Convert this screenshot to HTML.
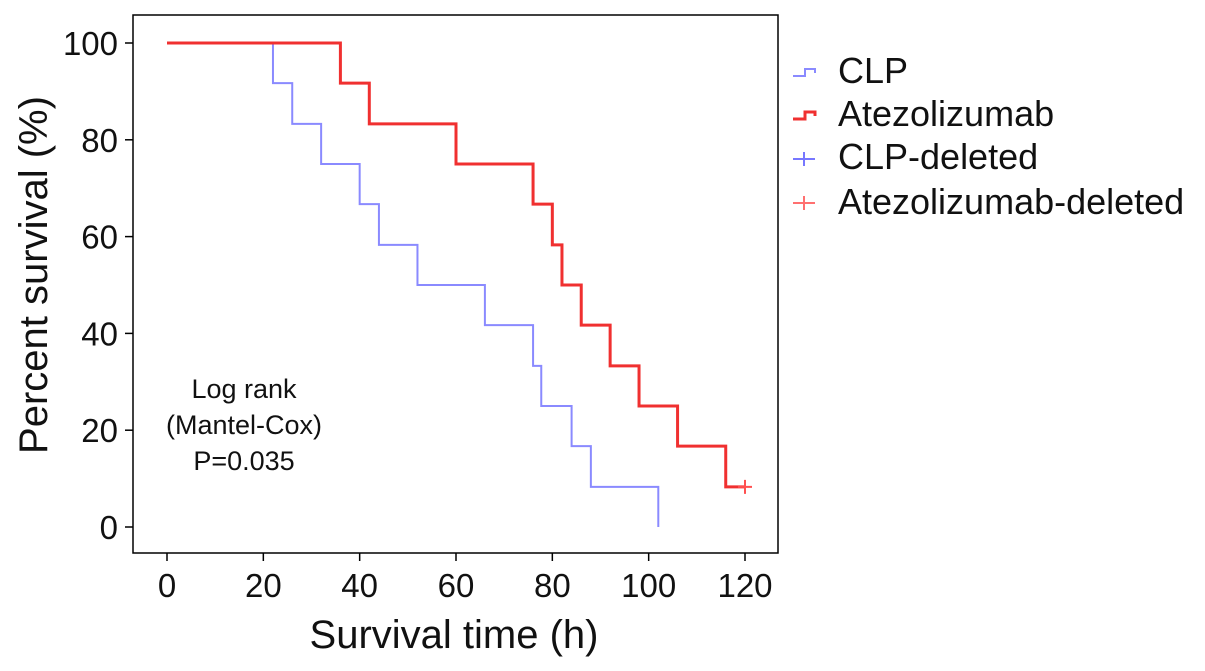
<!DOCTYPE html>
<html><head><meta charset="utf-8"><style>
body{margin:0;background:#fff;}
svg{display:block;font-family:"Liberation Sans",Arial,sans-serif;}
</style></head><body>
<svg id="chart" width="1205" height="671" viewBox="0 0 1205 671">
<rect x="133" y="15" width="645" height="538" fill="none" stroke="#000" stroke-width="1.5"/>
<g id="axes"></g>
<g id="series"></g>
<text x="244" y="398" font-size="27" text-anchor="middle" fill="#111">
<tspan x="244" dy="0">Log rank</tspan><tspan x="244" dy="36">(Mantel-Cox)</tspan><tspan x="244" dy="36">P=0.035</tspan></text>
<text x="454" y="648" font-size="40" text-anchor="middle" fill="#111">Survival time (h)</text>
<text transform="translate(47,275) rotate(-90)" font-size="40" text-anchor="middle" fill="#111">Percent survival (%)</text>
<g>
<path d="M793 76 h12 v-7 h10 v4" fill="none" stroke="#8a8aff" stroke-width="2"/>
<text x="838" y="83" font-size="36" fill="#111">CLP</text>
<path d="M793 119 h12 v-7 h10 v4" fill="none" stroke="#f03030" stroke-width="3"/>
<text x="838" y="126" font-size="36" fill="#111">Atezolizumab</text>
<path d="M793 159 h22 M804 152 v14" stroke="#7777ff" stroke-width="2"/>
<text x="838" y="169" font-size="36" fill="#111">CLP-deleted</text>
<path d="M793 203 h22 M804 196 v14" stroke="#ff7070" stroke-width="2"/>
<text x="838" y="214" font-size="36" fill="#111">Atezolizumab-deleted</text>
</g>
</svg>
<script>
const xTicks=[0,20,40,60,80,100,120];
const yTicks=[0,20,40,60,80,100];
const clpTimes=[0,22,26,32,40,44,52,66,76,77.7,84,88,102];
const clpSurv=[100,91.7,83.3,75,66.7,58.3,50,41.7,33.3,25,16.7,8.3,0];
const atzTimes=[0,36,42,60,76,80,82,86,92,98,106,116];
const atzSurv=[100,91.7,83.3,75,66.7,58.3,50,41.7,33.3,25,16.7,8.3];
const atzCensorT=[120];
const atzCensorS=[8.3];
const X=t=>167+t*(745-167)/120;
const Y=s=>527-s*(527-43)/100;
const NS='http://www.w3.org/2000/svg';
const ax=document.getElementById('axes'), se=document.getElementById('series');
function mk(tag,attrs,parent){const e=document.createElementNS(NS,tag);for(const k in attrs)e.setAttribute(k,attrs[k]);parent.appendChild(e);return e;}
xTicks.forEach(v=>{
  const l=mk('line',{x1:X(v),x2:X(v),y1:553,y2:561,stroke:'#000','stroke-width':1.5},ax);
  
  
  const t=mk('text',{x:X(v),y:597,'font-size':33,'text-anchor':'middle',fill:'#111'},ax);t.textContent=v;
  
  
});
yTicks.forEach(v=>{
  const l=mk('line',{x1:125,x2:133,y1:Y(v),y2:Y(v),stroke:'#000','stroke-width':1.5},ax);
  
  
  const t=mk('text',{x:118,y:Y(v)+12,'font-size':33,'text-anchor':'end',fill:'#111'},ax);t.textContent=v;
  
  
});
function stepPath(ts,ss,endT){
  let d='M'+X(ts[0])+' '+Y(ss[0]);
  for(let i=1;i<ts.length;i++){d+=' H'+X(ts[i])+' V'+Y(ss[i]);}
  if(endT!==undefined)d+=' H'+X(endT);
  return d;
}
const p1=mk('path',{d:stepPath(clpTimes,clpSurv),fill:'none',stroke:'#8a8aff','stroke-width':2},se);


const p2=mk('path',{d:stepPath(atzTimes,atzSurv,atzCensorT[0]),fill:'none',stroke:'#f03030','stroke-width':3},se);


atzCensorT.forEach((t,i)=>{
  const c=mk('path',{d:'M'+(X(t)-7)+' '+Y(atzCensorS[i])+' h14 M'+X(t)+' '+(Y(atzCensorS[i])-7)+' v14',stroke:'#ff5050','stroke-width':2},se);
  
  
});
</script>
</body></html>
